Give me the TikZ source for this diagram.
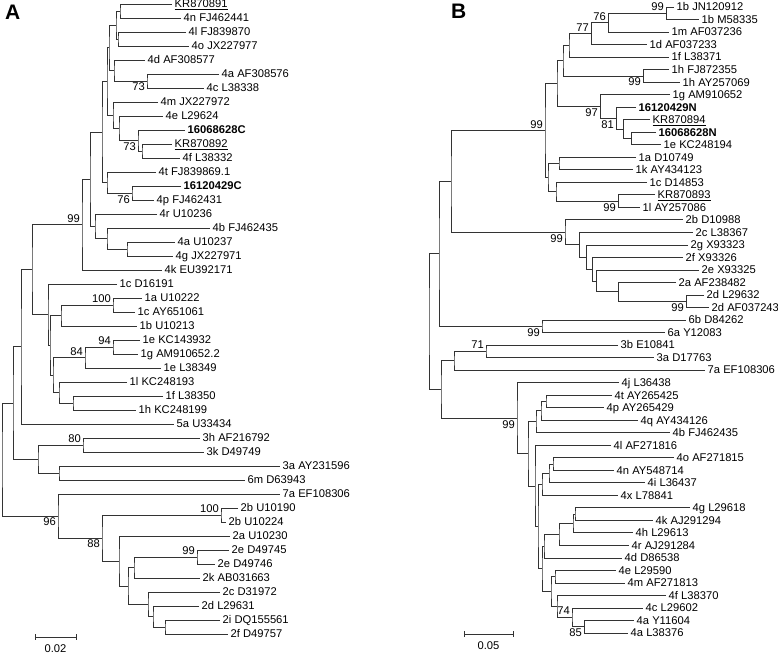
\documentclass[tikz,border=0pt]{standalone}
\usepackage{fontspec}
\setmainfont{Liberation Sans}
\usetikzlibrary{calc}
\newcommand\brn[4]{\path ($(#3)!0.5!(#4)$) coordinate (tmp);\coordinate (#1) at (#2,0 |- tmp);\draw[br] (#3) -| (#1) |- (#4);}
\newcommand\lf[4]{\coordinate (#1) at (#2,#3);\node[lab] (l#1) at (#1) {#4};}
\newcommand\bsa[2]{\node[bs,anchor=base east,xshift=-2pt,yshift=2.5pt] (bs#1) at (#1) {#2};}
\newcommand\bsb[2]{\node[bs,anchor=base east,xshift=-2pt,yshift=-10pt] (bs#1) at (#1) {#2};}
\begin{document}
\begin{tikzpicture}[x=1pt,y=-1pt,
  br/.style={draw=black!80,line width=0.7pt},
  lab/.style={anchor=base west,inner sep=0pt,xshift=2.5pt,yshift=-3.9pt,font=\fontsize{11.2}{12}\selectfont},
  bs/.style={inner sep=0pt,font=\fontsize{11.2}{12}\selectfont},
  panel/.style={anchor=north west,inner sep=0pt,font=\bfseries\fontsize{21}{21}\selectfont}]
\useasboundingbox (0,0) rectangle (778,655);
\node[panel] (PA) at (5,5) {A};
\node[panel] (PB) at (451,4) {B};
% ---------------- Tree A
\begin{scope}[yshift=-4pt,y=-14pt]
\lf{A0}{172}{0}{\underline{KR870891}}
\lf{A1}{181}{1}{4n FJ462441}
\lf{A2}{186}{2}{4l FJ839870}
\lf{A3}{189}{3}{4o JX227977}
\lf{A4}{145}{4}{4d AF308577}
\lf{A5}{219}{5}{4a AF308576}
\lf{A6}{204}{6}{4c L38338}
\lf{A7}{158}{7}{4m JX227972}
\lf{A8}{163}{8}{4e L29624}
\lf{A9}{185}{9}{\textbf{16068628C}}
\lf{A10}{172}{10}{\underline{KR870892}}
\lf{A11}{180}{11}{4f L38332}
\lf{A12}{156}{12}{4t FJ839869.1}
\lf{A13}{181}{13}{\textbf{16120429C}}
\lf{A14}{154}{14}{4p FJ462431}
\lf{A15}{157}{15}{4r U10236}
\lf{A16}{210}{16}{4b FJ462435}
\lf{A17}{175}{17}{4a U10237}
\lf{A18}{173}{18}{4g JX227971}
\lf{A19}{162}{19}{4k EU392171}
\lf{A20}{117}{20}{1c D16191}
\lf{A21}{142}{21}{1a U10222}
\lf{A22}{135}{22}{1c AY651061}
\lf{A23}{137}{23}{1b U10213}
\lf{A24}{140}{24}{1e KC143932}
\lf{A25}{138}{25}{1g AM910652.2}
\lf{A26}{161}{26}{1e L38349}
\lf{A27}{127}{27}{1l KC248193}
\lf{A28}{163}{28}{1f L38350}
\lf{A29}{136}{29}{1h KC248199}
\lf{A30}{174}{30}{5a U33434}
\lf{A31}{200}{31}{3h AF216792}
\lf{A32}{204}{32}{3k D49749}
\lf{A33}{280}{33}{3a AY231596}
\lf{A34}{245}{34}{6m D63943}
\lf{A35}{280}{35}{7a EF108306}
\lf{A36}{238}{36}{2b U10190}
\lf{A37}{226}{37}{2b U10224}
\lf{A38}{230}{38}{2a U10230}
\lf{A39}{229}{39}{2e D49745}
\lf{A40}{215}{40}{2e D49746}
\lf{A41}{200}{41}{2k AB031663}
\lf{A42}{220}{42}{2c D31972}
\lf{A43}{199}{43}{2d L29631}
\lf{A44}{220}{44}{2i DQ155561}
\lf{A45}{228}{45}{2f D49757}
\brn{a1}{120}{A0}{A1}
\brn{a2}{118}{A2}{A3}
\brn{a3}{116}{a1}{a2}
\brn{a4}{147}{A5}{A6}
\brn{a5}{114}{A4}{a4}
\brn{d1}{109}{a3}{a5}
\brn{c1}{142}{A10}{A11}
\brn{c2}{138}{A9}{c1}
\brn{c3}{119}{A8}{c2}
\brn{c4}{113}{A7}{c3}
\brn{d2}{107}{d1}{c4}
\brn{e1}{132}{A13}{A14}
\brn{e2}{107}{A12}{e1}
\brn{b2}{102}{d2}{e2}
\brn{f1}{127}{A17}{A18}
\brn{f2}{107}{A16}{f1}
\brn{f3}{95}{A15}{f2}
\brn{b1}{90}{b2}{f3}
\brn{G4}{82}{b1}{A19}
\brn{g1}{113}{A21}{A22}
\brn{g2}{61}{g1}{A23}
\brn{h1}{113}{A24}{A25}
\brn{h2}{85}{h1}{A26}
\brn{i1}{73}{A28}{A29}
\brn{i2}{59}{A27}{i1}
\brn{h3}{53}{h2}{i2}
\brn{g3}{50}{g2}{h3}
\brn{G1}{48}{A20}{g3}
\brn{X3}{32}{G4}{G1}
\brn{X2}{21}{X3}{A30}
\brn{j1}{83}{A31}{A32}
\brn{j2}{59}{A33}{A34}
\brn{j3}{38}{j1}{j2}
\brn{X1}{13}{X2}{j3}
\brn{k1}{221}{A36}{A37}
\brn{k2}{197}{A39}{A40}
\brn{k3}{134}{k2}{A41}
\brn{k4}{165}{A44}{A45}
\brn{k5}{153}{A43}{k4}
\brn{k6}{148}{A42}{k5}
\brn{k7}{128}{k3}{k6}
\brn{k8}{119}{A38}{k7}
\brn{k9}{102}{k1}{k8}
\brn{k10}{58}{A35}{k9}
\brn{RA}{2}{X1}{k10}
\bsb{a4}{73}
\bsb{c2}{73}
\bsb{e1}{76}
\bsa{G4}{99}
\bsa{g1}{100}
\bsa{h1}{94}
\bsa{h2}{84}
\bsa{j1}{80}
\bsb{k10}{96}
\bsa{k1}{100}
\bsb{k9}{88}
\bsa{k2}{99}
\end{scope}
% scale bar A
\coordinate (sa1) at (35,637);
\coordinate (sa2) at (76,637);
\draw[br] (sa1) -- (sa2);
\draw[br] ([yshift=3pt]sa1) -- ([yshift=-3pt]sa1);
\draw[br] ([yshift=3pt]sa2) -- ([yshift=-3pt]sa2);
\node[bs,anchor=base] (sal) at ($(sa1)!0.5!(sa2)+(0,15)$) {0.02};
% ---------------- Tree B
\begin{scope}[yshift=-7pt,y=-12.52pt]
\lf{B0}{674}{0}{1b JN120912}
\lf{B1}{699}{1}{1b M58335}
\lf{B2}{669}{2}{1m AF037236}
\lf{B3}{647}{3}{1d AF037233}
\lf{B4}{669}{4}{1f L38371}
\lf{B5}{669}{5}{1h FJ872355}
\lf{B6}{680}{6}{1h AY257069}
\lf{B7}{670}{7}{1g AM910652}
\lf{B8}{636}{8}{\textbf{16120429N}}
\lf{B9}{650}{9}{\underline{KR870894}}
\lf{B10}{656}{10}{\textbf{16068628N}}
\lf{B11}{661}{11}{1e KC248194}
\lf{B12}{636}{12}{1a D10749}
\lf{B13}{633}{13}{1k AY434123}
\lf{B14}{647}{14}{1c D14853}
\lf{B15}{655}{15}{\underline{KR870893}}
\lf{B16}{640}{16}{1l AY257086}
\lf{B17}{683}{17}{2b D10988}
\lf{B18}{693}{18}{2c L38367}
\lf{B19}{688}{19}{2g X93323}
\lf{B20}{683}{20}{2f X93326}
\lf{B21}{699}{21}{2e X93325}
\lf{B22}{676}{22}{2a AF238482}
\lf{B23}{704}{23}{2d L29632}
\lf{B24}{709}{24}{2d AF037243}
\lf{B25}{686}{25}{6b D84262}
\lf{B26}{665}{26}{6a Y12083}
\lf{B27}{618}{27}{3b E10841}
\lf{B28}{654}{28}{3a D17763}
\lf{B29}{705}{29}{7a EF108306}
\lf{B30}{619}{30}{4j L36438}
\lf{B31}{612}{31}{4t AY265425}
\lf{B32}{604}{32}{4p AY265429}
\lf{B33}{638}{33}{4q AY434126}
\lf{B34}{670}{34}{4b FJ462435}
\lf{B35}{611}{35}{4l AF271816}
\lf{B36}{674}{36}{4o AF271815}
\lf{B37}{614}{37}{4n AY548714}
\lf{B38}{645}{38}{4i L36437}
\lf{B39}{618}{39}{4x L78841}
\lf{B40}{690}{40}{4g L29618}
\lf{B41}{653}{41}{4k AJ291294}
\lf{B42}{633}{42}{4h L29613}
\lf{B43}{629}{43}{4r AJ291284}
\lf{B44}{622}{44}{4d D86538}
\lf{B45}{616}{45}{4e L29590}
\lf{B46}{625}{46}{4m AF271813}
\lf{B47}{666}{47}{4f L38370}
\lf{B48}{643}{48}{4c L29602}
\lf{B49}{634}{49}{4a Y11604}
\lf{B50}{628}{50}{4a L38376}
\brn{m1}{666}{B0}{B1}
\brn{m2}{608}{m1}{B2}
\brn{m3}{591}{m2}{B3}
\brn{m4}{569}{m3}{B4}
\brn{m5}{643}{B5}{B6}
\brn{m6}{563}{m4}{m5}
\brn{n1}{631}{B10}{B11}
\brn{n2}{623}{B9}{n1}
\brn{n3}{616}{B8}{n2}
\brn{n4}{600}{B7}{n3}
\brn{m7}{557}{m6}{n4}
\brn{o1}{559}{B12}{B13}
\brn{o2}{618}{B15}{B16}
\brn{o3}{556}{B14}{o2}
\brn{o4}{548}{o1}{o3}
\brn{GB1}{545}{m7}{o4}
\brn{p1}{686}{B23}{B24}
\brn{p2}{618}{B22}{p1}
\brn{p3}{596}{B21}{p2}
\brn{p4}{592}{B20}{p3}
\brn{p5}{586}{B19}{p4}
\brn{p6}{579}{B18}{p5}
\brn{p7}{565}{B17}{p6}
\brn{q1}{451}{GB1}{p7}
\brn{r1}{542}{B25}{B26}
\brn{q2}{439}{q1}{r1}
\brn{s1}{486}{B27}{B28}
\brn{s2}{454}{s1}{B29}
\brn{t1}{546}{B31}{B32}
\brn{t2}{541}{t1}{B33}
\brn{t3}{536}{t2}{B34}
\brn{u1}{553}{B36}{B37}
\brn{u2}{549}{u1}{B38}
\brn{u3}{542}{u2}{B39}
\brn{v1}{575}{B40}{B41}
\brn{v2}{573}{v1}{B42}
\brn{v3}{559}{v2}{B43}
\brn{v4}{544}{v3}{B44}
\brn{w1}{555}{B45}{B46}
\brn{w2}{584}{B49}{B50}
\brn{w3}{572}{B48}{w2}
\brn{w4}{557}{B47}{w3}
\brn{w5}{551}{w1}{w4}
\brn{w6}{542}{v4}{w5}
\brn{u4}{538}{u3}{w6}
\brn{u5}{535}{B35}{u4}
\brn{x1}{528}{t3}{u5}
\brn{GB4}{517}{B30}{x1}
\brn{s3}{441}{s2}{GB4}
\brn{RB}{429}{q2}{s3}
\bsa{m1}{99}
\bsa{m2}{76}
\bsa{m3}{77}
\bsb{m5}{99}
\bsb{n4}{97}
\bsb{n3}{81}
\bsb{o2}{99}
\bsa{GB1}{99}
\bsb{p7}{99}
\bsb{p1}{99}
\bsb{r1}{99}
\bsa{s1}{71}
\bsb{GB4}{99}
\bsa{w3}{74}
\bsb{w2}{85}
\end{scope}
% scale bar B
\coordinate (sb1) at (464,634);
\coordinate (sb2) at (513,634);
\draw[br] (sb1) -- (sb2);
\draw[br] ([yshift=3pt]sb1) -- ([yshift=-3pt]sb1);
\draw[br] ([yshift=3pt]sb2) -- ([yshift=-3pt]sb2);
\node[bs,anchor=base] (sbl) at ($(sb1)!0.5!(sb2)+(0,15)$) {0.05};
\end{tikzpicture}
\end{document}
